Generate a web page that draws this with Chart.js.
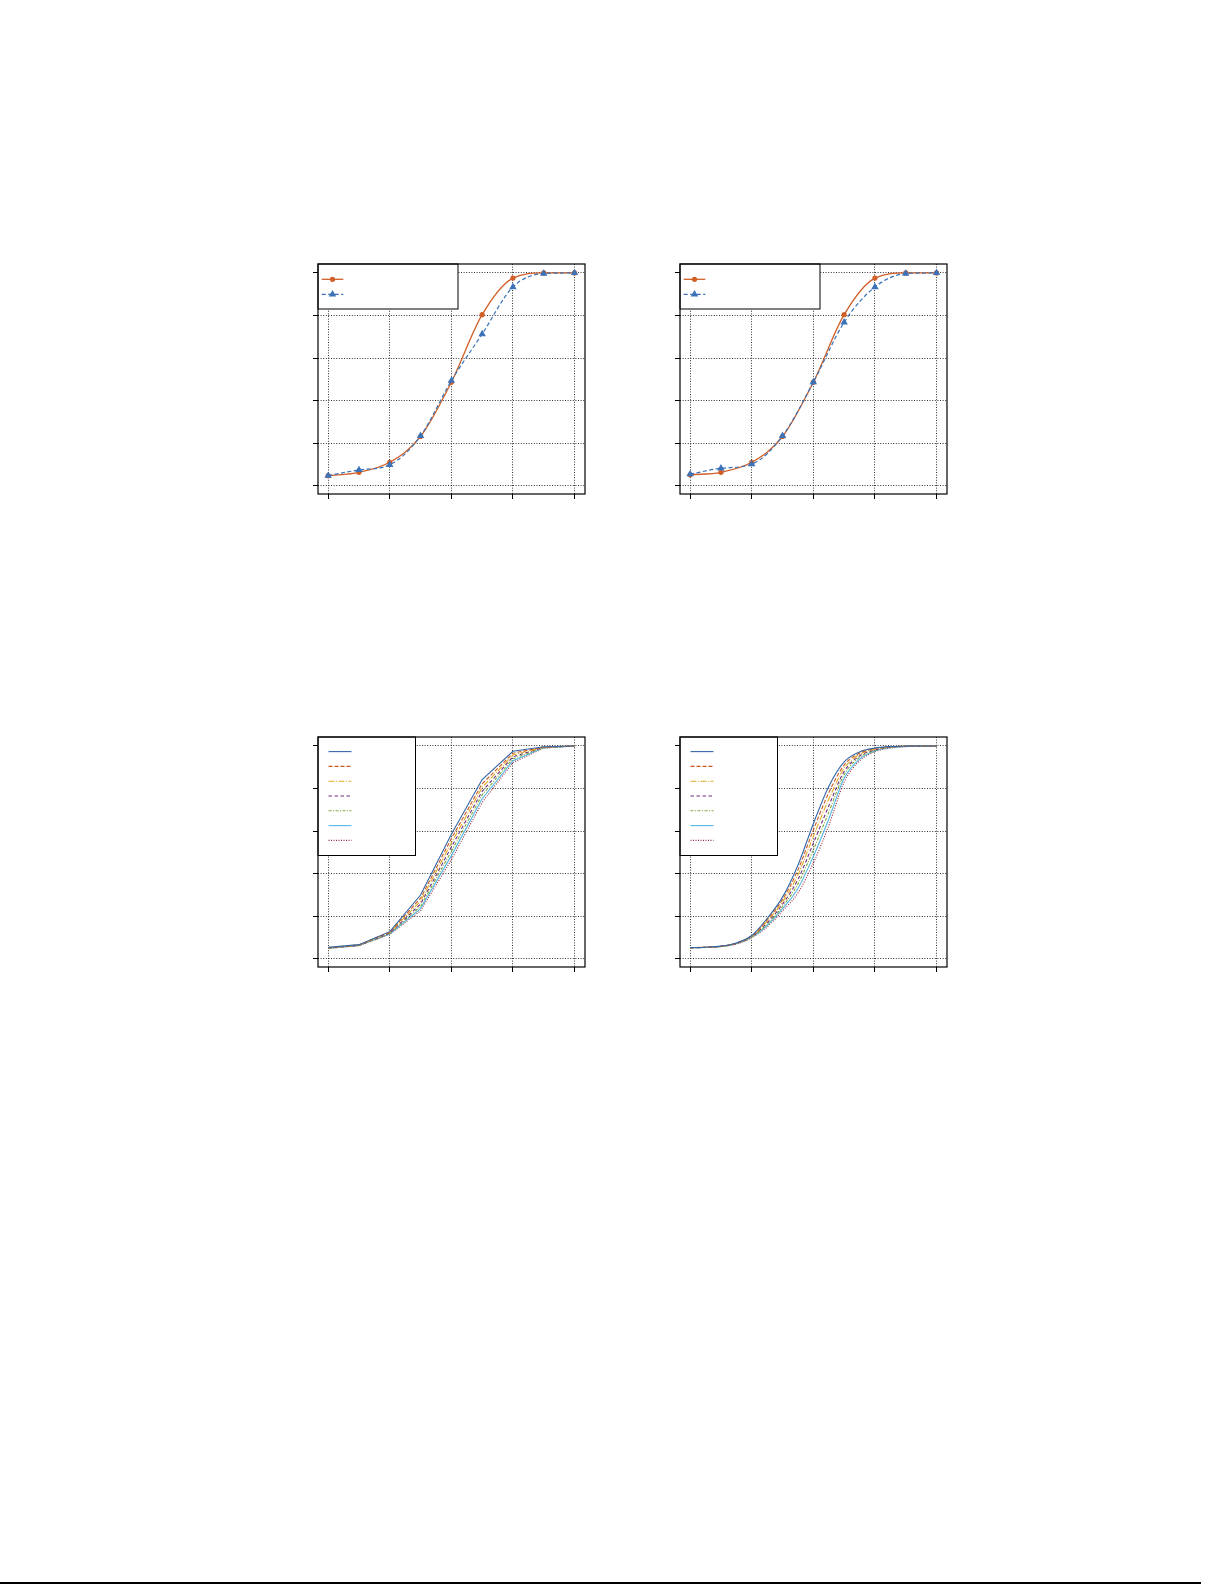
<!DOCTYPE html>
<html>
<head>
<meta charset="utf-8">
<script src="https://cdn.jsdelivr.net/npm/chart.js@4/dist/chart.umd.min.js"></script>
<style>
  html, body { margin: 0; padding: 0; background: #fff; }
  body { width: 1225px; height: 1585px; position: relative; overflow: hidden; }
  canvas { position: absolute; }
  #rule { position: absolute; left: 0; top: 1582px; width: 1201px; height: 2px; background: #000; }
</style>
</head>
<body>
<canvas id="tl" width="300" height="260" style="left:300px;top:250px"></canvas>
<canvas id="tr" width="300" height="260" style="left:662px;top:250px"></canvas>
<canvas id="bl" width="300" height="260" style="left:300px;top:723px"></canvas>
<canvas id="br" width="300" height="260" style="left:662px;top:723px"></canvas>
<div id="rule"></div>
<script>
// tick positions shared by all panels
const xTicks = [0, 1, 2, 3, 4];
const yTicks = [0, 0.2, 0.4, 0.6, 0.8, 1.0];

// top panels: measured points
const xTop = [0, 0.5, 1, 1.5, 2, 2.5, 3, 3.5, 4];
const tlRed = [0.048, 0.064, 0.111, 0.232, 0.487, 0.804, 0.976, 1.0, 1.0];
const tlBlue = [0.048, 0.075, 0.099, 0.235, 0.494, 0.713, 0.934, 0.997, 1.0];
const trRed = [0.052, 0.064, 0.111, 0.232, 0.487, 0.804, 0.976, 1.0, 1.0];
const trBlue = [0.055, 0.083, 0.102, 0.235, 0.487, 0.768, 0.934, 0.997, 1.0];

// bottom left: seven runs, straight segments
const xBl = [0, 0.5, 1, 1.5, 2, 2.5, 3, 3.5, 4];
const blS1 = [0.054, 0.067, 0.128, 0.300, 0.585, 0.842, 0.975, 0.996, 1.0];
const blS2 = [0.053, 0.066, 0.126, 0.285, 0.565, 0.822, 0.966, 0.995, 1.0];
const blS3 = [0.052, 0.065, 0.124, 0.271, 0.545, 0.805, 0.958, 0.994, 1.0];
const blS4 = [0.051, 0.064, 0.121, 0.258, 0.525, 0.787, 0.949, 0.993, 1.0];
const blS5 = [0.050, 0.063, 0.119, 0.247, 0.505, 0.770, 0.940, 0.992, 1.0];
const blS6 = [0.050, 0.063, 0.117, 0.236, 0.485, 0.752, 0.931, 0.991, 1.0];
const blS7 = [0.049, 0.062, 0.115, 0.226, 0.465, 0.735, 0.922, 0.990, 1.0];

// bottom right: seven smooth curves
const xBr = [0, 0.25, 0.5, 0.75, 1, 1.25, 1.5, 1.75, 2, 2.25, 2.5, 2.75, 3, 3.25, 3.5, 3.75, 4];
const brS1 = [0.053, 0.055, 0.060, 0.075, 0.110, 0.190, 0.290, 0.440, 0.635, 0.810, 0.925, 0.972, 0.990, 0.997, 0.999, 1.0, 1.0];
const brS2 = [0.053, 0.055, 0.060, 0.074, 0.108, 0.183, 0.279, 0.418, 0.605, 0.780, 0.910, 0.966, 0.988, 0.996, 0.999, 1.0, 1.0];
const brS3 = [0.053, 0.055, 0.059, 0.073, 0.106, 0.177, 0.268, 0.395, 0.575, 0.750, 0.895, 0.960, 0.985, 0.995, 0.999, 1.0, 1.0];
const brS4 = [0.052, 0.054, 0.059, 0.072, 0.105, 0.170, 0.257, 0.373, 0.543, 0.718, 0.880, 0.953, 0.982, 0.994, 0.998, 1.0, 1.0];
const brS5 = [0.052, 0.054, 0.058, 0.072, 0.103, 0.163, 0.246, 0.352, 0.512, 0.688, 0.865, 0.946, 0.979, 0.993, 0.998, 1.0, 1.0];
const brS6 = [0.052, 0.054, 0.058, 0.071, 0.102, 0.157, 0.236, 0.331, 0.481, 0.656, 0.848, 0.938, 0.976, 0.992, 0.998, 0.999, 1.0];
const brS7 = [0.052, 0.054, 0.058, 0.070, 0.100, 0.150, 0.225, 0.310, 0.450, 0.625, 0.830, 0.930, 0.973, 0.990, 0.997, 0.999, 1.0];

const runColors = ['#3567a6', '#c85a28', '#e2ab22', '#6f2f84', '#7fab3e', '#52b6e2', '#9a2440'];
const runDashes = [[], [4, 2], [6, 1.5, 1, 1.5], [3.5, 2.5], [3, 1.5, 1, 1.5], [], [1, 1.5]];

function pts(xs, ys) {
    return xs.map((x, i) => ({ x: x, y: ys[i] }));
}

// box round the plot area
const framePlugin = {
    id: 'frame',
    afterDraw(chart) {
        const a = chart.chartArea;
        const ctx = chart.ctx;
        ctx.save();
        ctx.strokeStyle = '#000';
        ctx.lineWidth = 1.2;
        ctx.strokeRect(a.left, a.top, a.right - a.left, a.bottom - a.top);
        ctx.restore();
    }
};

// legend box in the upper left corner, lines only (no labels)
const boxLegend = {
    id: 'boxLegend',
    afterDatasetsDraw(chart, args, opts) {
        const a = chart.chartArea;
        const ctx = chart.ctx;
        ctx.save();
        ctx.fillStyle = '#fff';
        ctx.fillRect(a.left, a.top, opts.w, opts.h);
        ctx.strokeStyle = '#000';
        ctx.lineWidth = 1;
        ctx.strokeRect(a.left, a.top, opts.w, opts.h);
        chart.data.datasets.forEach((ds, i) => {
            const y = a.top + opts.row0 + i * opts.gap;
            const x0 = a.left + opts.lx;
            ctx.strokeStyle = ds.borderColor;
            ctx.lineWidth = ds.borderWidth;
            ctx.setLineDash(ds.borderDash || []);
            ctx.beginPath();
            ctx.moveTo(x0, y);
            ctx.lineTo(x0 + opts.len, y);
            ctx.stroke();
            ctx.setLineDash([]);
            if (ds.pointRadius > 0) {
                const cx = x0 + opts.len / 2;
                const r = ds.pointRadius;
                ctx.fillStyle = ds.pointBackgroundColor;
                ctx.beginPath();
                if (ds.pointStyle === 'triangle') {
                    ctx.moveTo(cx, y - r);
                    ctx.lineTo(cx + r * 0.866, y + r * 0.5);
                    ctx.lineTo(cx - r * 0.866, y + r * 0.5);
                    ctx.closePath();
                } else {
                    ctx.arc(cx, y, r, 0, Math.PI * 2);
                }
                ctx.fill();
            }
        });
        ctx.restore();
    }
};

function axes() {
    const grid = {
        color: '#000',
        lineWidth: 0.8,
        drawTicks: true,
        tickLength: 5,
        tickColor: '#000',
        tickWidth: 1,
        tickBorderDash: []
    };
    return {
        x: {
            type: 'linear', min: -0.165, max: 4.17,
            afterBuildTicks: s => { s.ticks = xTicks.map(v => ({ value: v })); },
            afterFit: s => { s.height = 16; },
            ticks: { display: false },
            grid: grid,
            border: { display: false, dash: [1, 1.6] }
        },
        y: {
            type: 'linear', min: -0.038, max: 1.042,
            afterBuildTicks: s => { s.ticks = yTicks.map(v => ({ value: v })); },
            afterFit: s => { s.width = 18; },
            ticks: { display: false },
            grid: grid,
            border: { display: false, dash: [1, 1.6] }
        }
    };
}

function makeChart(id, datasets, legendOpts) {
    new Chart(document.getElementById(id), {
        type: 'line',
        data: { datasets: datasets },
        options: {
            responsive: false,
            animation: false,
            layout: { padding: { top: 14, right: 15, left: 0, bottom: 0 } },
            plugins: {
                legend: { display: false },
                tooltip: { enabled: false },
                boxLegend: legendOpts
            },
            scales: axes()
        },
        plugins: [boxLegend, framePlugin]
    });
}

function topSets(red, blue) {
    return [
        {
            data: pts(xTop, red), borderColor: '#d05f28', borderWidth: 1.3, order: 1,
            pointStyle: 'circle', pointRadius: 2.6, pointBackgroundColor: '#d05f28', pointBorderWidth: 0,
            cubicInterpolationMode: 'monotone', fill: false
        },
        {
            data: pts(xTop, blue), borderColor: '#3b72b8', borderWidth: 1.2, borderDash: [4, 2.5], order: 0,
            pointStyle: 'triangle', pointRadius: 4.3, pointBackgroundColor: '#3b72b8', pointBorderWidth: 0,
            cubicInterpolationMode: 'monotone', fill: false
        }
    ];
}

function runSets(xs, series, smooth) {
    return series.map((ys, i) => ({
        data: pts(xs, ys),
        borderColor: runColors[i],
        borderWidth: 1.1,
        borderDash: runDashes[i],
        pointRadius: 0,
        tension: 0,
        cubicInterpolationMode: smooth ? 'monotone' : 'default',
        fill: false
    }));
}

const topLegend = { w: 140, h: 45, row0: 15.3, gap: 15, lx: 3.7, len: 21.6 };
const runLegend = { w: 97.5, h: 118.5, row0: 14.6, gap: 14.8, lx: 10.5, len: 23 };

makeChart('tl', topSets(tlRed, tlBlue), topLegend);
makeChart('tr', topSets(trRed, trBlue), topLegend);
makeChart('bl', runSets(xBl, [blS1, blS2, blS3, blS4, blS5, blS6, blS7], false), runLegend);
makeChart('br', runSets(xBr, [brS1, brS2, brS3, brS4, brS5, brS6, brS7], true), runLegend);
</script>
</body>
</html>
